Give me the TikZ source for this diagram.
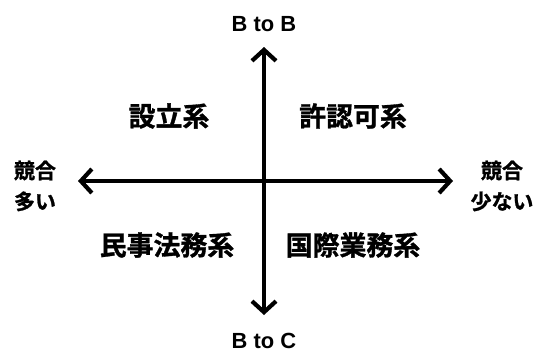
\documentclass[tikz,border=0pt]{standalone}
\usepackage{fontspec}
\setmainfont{Liberation Sans}
\newfontfamily\jpfont{Noto Sans CJK JP Bold}[FakeBold=1.2]
\usetikzlibrary{arrows.meta}
\begin{document}
\begin{tikzpicture}[x=1bp,y=-1bp,
  axis/.style={line width=4.2bp, line cap=round, line join=round,
    -{Straight Barb[length=11bp 0 0, width=24bp 0 0, line join=miter]}},
  quad/.style={font=\jpfont\fontsize{27}{30}\selectfont, inner sep=0pt},
  side/.style={font=\jpfont\fontsize{21}{31}\selectfont, inner sep=0pt, align=center},
  endlbl/.style={font=\bfseries\fontsize{22}{26}\selectfont, inner sep=0pt}]
\useasboundingbox (0,0) rectangle (545,358);
\coordinate (c) at (264,181);
\coordinate (top) at (264,47);
\coordinate (bot) at (264,315);
\coordinate (left) at (78,181);
\coordinate (right) at (453,181);
\draw[axis] (c) -- (top);
\draw[axis] (c) -- (bot);
\draw[axis] (c) -- (left);
\draw[axis] (c) -- (right);
\node[endlbl] (bb) at (264,24) {B to B};
\node[endlbl] (bc) at (264,341) {B to C};
\node[side] (l) at (35,186) {競合\\多い};
\node[side] (r) at (502,186) {競合\\少ない};
\node[quad] (q1) at (169,116) {設立系};
\node[quad] (q2) at (353,116) {許認可系};
\node[quad] (q3) at (167,245) {民事法務系};
\node[quad] (q4) at (353,245) {国際業務系};
\end{tikzpicture}
\end{document}
